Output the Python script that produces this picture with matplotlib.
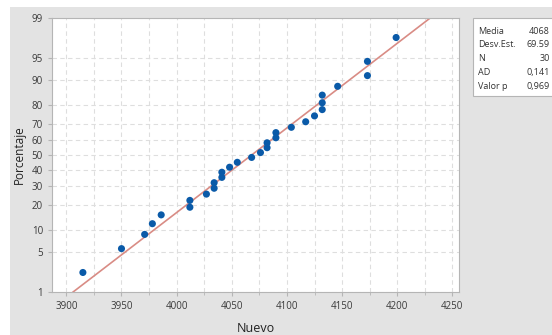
import matplotlib
matplotlib.use("Agg")
import matplotlib.pyplot as plt
from matplotlib.patches import Rectangle
from matplotlib.ticker import MultipleLocator
from statistics import NormalDist
import numpy as np

plt.rcParams['font.family'] = ['Open Sans', 'DejaVu Sans']

# data (sorted)
nuevo = [3915, 3950, 3971, 3978, 3986, 4012, 4012, 4027, 4034, 4034,
         4041, 4041, 4048, 4055, 4068, 4076, 4082, 4082, 4090, 4090,
         4104, 4117, 4125, 4132, 4132, 4132, 4146, 4173, 4173, 4199]
media = 4068
desv = 69.59
stat_labels = ["Media", "Desv.Est.", "N", "AD", "Valor p"]
stat_values = ["4068", "69.59", "30", "0,141", "0,969"]
pct_ticks = [1, 5, 10, 20, 30, 40, 50, 60, 70, 80, 90, 95, 99]
x_ticks = [3900, 3950, 4000, 4050, 4100, 4150, 4200, 4250]

nd = NormalDist()
def z(p):
    return nd.inv_cdf(p / 100.0)

n = len(nuevo)
# median ranks, as minitab does
pos = [(i - 0.3) / (n + 0.4) * 100 for i in range(1, n + 1)]

W, H = 552, 335
fig = plt.figure(figsize=(W / 100, H / 100), dpi=100)
fig.patch.set_facecolor("white")
fig.patches.append(Rectangle((10 / W, 0), 1 - 10 / W, 1 - 7 / H,
                             transform=fig.transFigure, facecolor="#e3e3e3",
                             edgecolor="none", zorder=-5))

ax = fig.add_axes([52 / W, 1 - 292 / H, (459 - 52) / W, (292 - 18) / H])
ax.set_facecolor("white")

# fitted line from 1% to 99%
fit_x = [media + z(1) * desv, media + z(99) * desv]
ax.plot(fit_x, [z(1), z(99)], color="#d98c85", lw=1.2, zorder=2)
ax.scatter(nuevo, [z(p) for p in pos], s=26, color="#0a5aa8", zorder=3,
           edgecolors="none")

ax.set_xlim(3887, 4256)
ax.set_ylim(z(1), z(99))
ax.set_xticks(x_ticks)
ax.xaxis.set_minor_locator(MultipleLocator(25))
ax.set_yticks([z(p) for p in pct_ticks])
ax.set_yticklabels([str(p) for p in pct_ticks])

ax.grid(True, which="both", axis="x", color="#dedede", ls=(0, (4, 3)), lw=0.8)
ax.grid(True, which="major", axis="y", color="#dedede", ls=(0, (4, 3)), lw=0.8)
ax.set_axisbelow(True)

for s in ax.spines.values():
    s.set_color("#b5b5b5")
ax.tick_params(axis="both", which="major", labelsize=7, colors="#b5b5b5",
               labelcolor="#3a3a3a", length=3, width=0.8)
ax.tick_params(axis="x", which="minor", length=2, colors="#b5b5b5")

ax.set_xlabel("Nuevo", fontsize=9, color="#222222", labelpad=7)
ax.set_ylabel("Porcentaje", fontsize=8.5, color="#222222", labelpad=4)

# stats box
fig.patches.append(Rectangle((473 / W, 1 - 96 / H), 100 / W, 78 / H,
                             transform=fig.transFigure, facecolor="white",
                             edgecolor="#b5b5b5", lw=0.8, zorder=1))
for k, (lab, val) in enumerate(zip(stat_labels, stat_values)):
    yy = 1 - (31 + 13.8 * k) / H
    fig.text(478 / W, yy, lab, fontsize=6.5, color="#333333", va="center",
             zorder=2)
    fig.text(550 / W, yy, val, fontsize=6.5, color="#333333", va="center",
             ha="right", zorder=2)

fig.savefig("out.png", dpi=100, facecolor=fig.get_facecolor())
